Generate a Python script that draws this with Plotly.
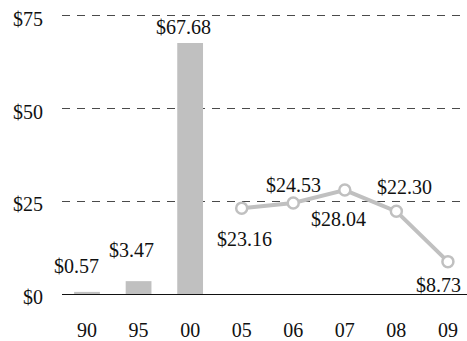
import plotly.graph_objects as go

# Years shown on the category axis
years = ["90", "95", "00", "05", "06", "07", "08", "09"]

# Early years drawn as bars
bar_years = ["90", "95", "00"]
bar_values = [0.57, 3.47, 67.68]

# Recent years drawn as a line
line_years = ["05", "06", "07", "08", "09"]
line_values = [23.16, 24.53, 28.04, 22.30, 8.73]

y_ticks = [0, 25, 50, 75]
y_tick_text = ["$0", "$25", "$50", "$75"]

# Label nudges (pixels) so value labels sit clear of the marks
bar_label_dx = [-11, -7, -7]
bar_label_dy = [26, 31, 16]
line_label_dx = [3, 0, -6, 8, -9]
line_label_dy = [-31, 18, -29, 24, -23]

GREY = "#c0c0c0"
FONT = dict(family="Liberation Serif", size=20, color="#111111")

pos = {y: i for i, y in enumerate(years)}
bx = [pos[y] for y in bar_years]
lx = [pos[y] for y in line_years]

fig = go.Figure()
fig.add_trace(go.Bar(x=bx, y=bar_values, width=0.5, marker=dict(color=GREY, line=dict(width=0)),
                     hoverinfo="skip"))
fig.add_trace(go.Scatter(x=lx, y=line_values, mode="lines+markers",
                         line=dict(color=GREY, width=4),
                         marker=dict(size=11, color="white", line=dict(color=GREY, width=2.5)),
                         hoverinfo="skip"))

annotations = []
for x, v, dx, dy in zip(bx, bar_values, bar_label_dx, bar_label_dy):
    annotations.append(dict(x=x, y=v, text=f"${v:.2f}", showarrow=False, xshift=dx, yshift=dy,
                            font=FONT, xanchor="center", yanchor="middle"))
for x, v, dx, dy in zip(lx, line_values, line_label_dx, line_label_dy):
    annotations.append(dict(x=x, y=v, text=f"${v:.2f}", showarrow=False, xshift=dx, yshift=dy,
                            font=FONT, xanchor="center", yanchor="middle"))

fig.update_layout(
    width=467, height=341,
    margin=dict(l=62, r=0, t=14, b=44),
    plot_bgcolor="white", paper_bgcolor="white",
    showlegend=False,
    font=FONT,
    annotations=annotations,
    xaxis=dict(range=[-0.485, 7.37], tickvals=list(range(len(years))), ticktext=years,
               showgrid=False, zeroline=False, showline=True, linecolor="#111111", linewidth=1,
               ticks="", ticklabelstandoff=18, tickfont=FONT, fixedrange=True),
    yaxis=dict(range=[0, 75.53], tickvals=y_ticks, ticktext=y_tick_text,
               showgrid=True, gridcolor="#4a4a4a", gridwidth=1, griddash="8px,7px",
               zeroline=False, showline=False, ticks="", ticklabelstandoff=18,
               ticklabelshift=3, tickfont=FONT, fixedrange=True),
)

fig.write_html("out.html", config={"displayModeBar": False})
